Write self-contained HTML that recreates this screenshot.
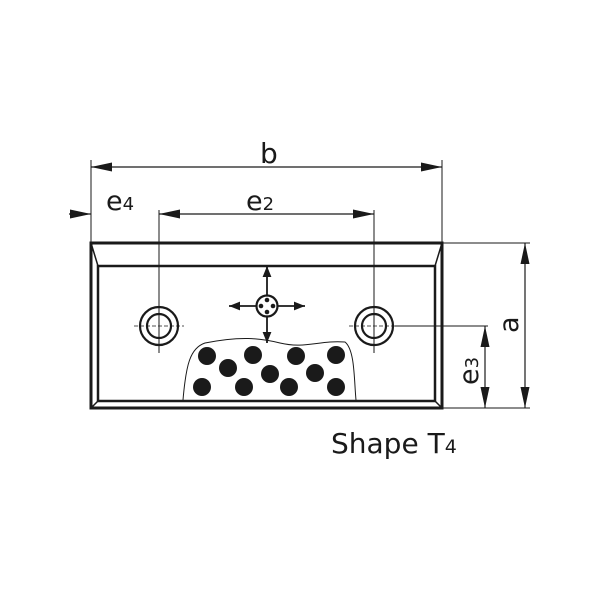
<!DOCTYPE html>
<html><head><style>body{margin:0;background:#fff}</style></head><body>
<svg width="600" height="600" viewBox="0 0 600 600" xmlns="http://www.w3.org/2000/svg" font-family="'DejaVu Sans','Liberation Sans',sans-serif">
<defs>
<marker id="ar" viewBox="0 0 10 8" refX="10" refY="4" markerWidth="11" markerHeight="9" markerUnits="userSpaceOnUse" orient="auto-start-reverse"><path d="M0,0 L10,4 L0,8 Z" fill="#1a1a1a"/></marker>
<marker id="ab" viewBox="0 0 14 6" refX="14" refY="3" markerWidth="26" markerHeight="9" markerUnits="userSpaceOnUse" orient="auto-start-reverse"><path d="M0,0 L14,3 L0,6 Z" fill="#1a1a1a"/></marker>
</defs>
<g stroke="#1a1a1a" fill="none">
<rect x="91" y="243" width="351" height="165" stroke-width="3"/>
<rect x="98" y="266" width="337" height="135" stroke-width="2.5"/>
<path d="M91,243 L98,266 M442,243 L435,266 M91,408 L98,401 M442,408 L435,401" stroke-width="1.5"/>
<line x1="91" y1="167" x2="442" y2="167" stroke-width="1.2" marker-start="url(#ab)" marker-end="url(#ab)"/>
<line x1="91" y1="160" x2="91" y2="243" stroke-width="1"/>
<line x1="442" y1="160" x2="442" y2="243" stroke-width="1"/>
<line x1="69" y1="214" x2="91" y2="214" stroke-width="1.2" marker-end="url(#ab)"/>
<line x1="159" y1="214" x2="374" y2="214" stroke-width="1.2" marker-start="url(#ab)" marker-end="url(#ab)"/>
<line x1="159" y1="210" x2="159" y2="353" stroke-width="1"/>
<line x1="374" y1="210" x2="374" y2="353" stroke-width="1"/>
<line x1="442" y1="243" x2="530" y2="243" stroke-width="1"/>
<line x1="442" y1="408" x2="530" y2="408" stroke-width="1"/>
<line x1="525" y1="243" x2="525" y2="408" stroke-width="1.2" marker-start="url(#ab)" marker-end="url(#ab)"/>
<line x1="395" y1="326" x2="488" y2="326" stroke-width="1"/>
<line x1="485" y1="326" x2="485" y2="408" stroke-width="1.2" marker-start="url(#ab)" marker-end="url(#ab)"/>
<circle cx="159" cy="326" r="19" stroke-width="2.2"/><circle cx="159" cy="326" r="12" stroke-width="2.2"/>
<circle cx="374" cy="326" r="19" stroke-width="2.2"/><circle cx="374" cy="326" r="12" stroke-width="2.2"/>
<line x1="134" y1="326" x2="184" y2="326" stroke-width="0.8" stroke-dasharray="4,2"/>
<line x1="349" y1="326" x2="395" y2="326" stroke-width="0.8" stroke-dasharray="4,2"/>
<circle cx="267" cy="306" r="10.5" stroke-width="2.2"/>
<line x1="267" y1="295" x2="267" y2="266" stroke-width="1.8" marker-end="url(#ar)"/>
<line x1="267" y1="317" x2="267" y2="343" stroke-width="1.8" marker-end="url(#ar)"/>
<line x1="256" y1="306" x2="229" y2="306" stroke-width="1.8" marker-end="url(#ar)"/>
<line x1="278" y1="306" x2="305" y2="306" stroke-width="1.8" marker-end="url(#ar)"/>
<path d="M183,400 C186,365 190,348 205,343 C240,336 260,338 280,343 C305,349 320,340 345,342 C355,350 354,380 356,400" stroke-width="1"/>
</g>
<g fill="#1a1a1a">
<circle cx="267" cy="300" r="2.3"/><circle cx="261" cy="306" r="2.3"/><circle cx="273" cy="306" r="2.3"/><circle cx="267" cy="312" r="2.3"/>
<circle cx="207" cy="356" r="9"/><circle cx="253" cy="355" r="9"/><circle cx="296" cy="356" r="9"/><circle cx="336" cy="355" r="9"/>
<circle cx="228" cy="368" r="9"/><circle cx="270" cy="374" r="9"/><circle cx="315" cy="373" r="9"/>
<circle cx="202" cy="387" r="9"/><circle cx="244" cy="387" r="9"/><circle cx="289" cy="387" r="9"/><circle cx="336" cy="387" r="9"/>
<text x="260" y="163" font-size="28">b</text>
<text x="106" y="210" font-size="27">e<tspan font-size="18">4</tspan></text>
<text x="246" y="210" font-size="27">e<tspan font-size="18">2</tspan></text>
<text transform="translate(518,333) rotate(-90)" font-size="27">a</text>
<text transform="translate(478,385) rotate(-90)" font-size="27">e<tspan font-size="18">3</tspan></text>
<text x="331" y="453" font-size="28">Shape T<tspan font-size="19">4</tspan></text>
</g>
</svg>
</body></html>
